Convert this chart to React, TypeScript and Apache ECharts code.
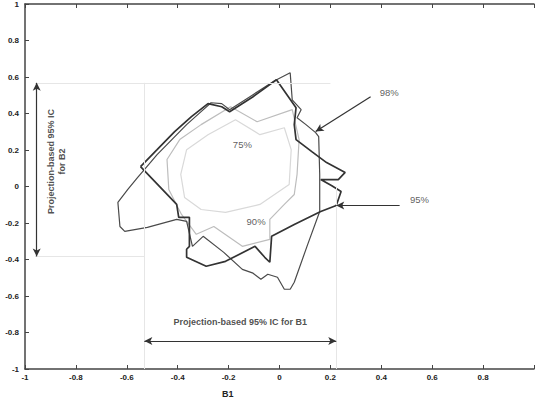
import React, { useEffect, useRef } from "react";
import * as echarts from "echarts";

// Confidence regions (B1, B2)
const region98: number[][] = [
  [-0.531, 0.093], [-0.481, 0.175], [-0.423, 0.257], [-0.365, 0.339], [-0.308, 0.41],
  [-0.269, 0.459], [-0.227, 0.454], [-0.196, 0.421], [-0.104, 0.503], [-0.019, 0.579],
  [0.042, 0.623], [0.05, 0.475], [0.085, 0.421], [0.069, 0.377], [0.104, 0.339],
  [0.142, 0.295], [0.154, 0.273], [0.158, 0.066], [0.158, -0.137], [0.108, -0.328],
  [0.058, -0.525], [0.042, -0.563], [0.019, -0.563], [-0.008, -0.497], [-0.046, -0.481],
  [-0.073, -0.508], [-0.104, -0.475], [-0.146, -0.454], [-0.219, -0.361], [-0.3, -0.273],
  [-0.342, -0.328], [-0.365, -0.191], [-0.404, -0.18], [-0.519, -0.224], [-0.608, -0.246],
  [-0.627, -0.219], [-0.635, -0.087], [-0.596, -0.016], [-0.558, 0.049], [-0.531, 0.093],
];
const region95: number[][] = [
  [-0.546, 0.109], [-0.481, 0.202], [-0.412, 0.301], [-0.346, 0.383], [-0.281, 0.454],
  [-0.227, 0.437], [-0.196, 0.41], [-0.104, 0.492], [-0.012, 0.585], [0.065, 0.432],
  [0.058, 0.339], [0.065, 0.257], [0.127, 0.191], [0.185, 0.131], [0.258, 0.077],
  [0.231, 0.038], [0.162, 0.038], [0.204, 0.005], [0.242, -0.027], [0.223, -0.104],
  [0.162, -0.137], [0.058, -0.208], [-0.031, -0.273], [-0.038, -0.415], [-0.058, -0.388],
  [-0.096, -0.328], [-0.212, -0.41], [-0.288, -0.437], [-0.365, -0.388], [-0.365, -0.344],
  [-0.354, -0.328], [-0.354, -0.169], [-0.396, -0.169], [-0.404, -0.098], [-0.546, 0.109],
];
const region90: number[][] = [
  [-0.392, 0.257], [-0.308, 0.339], [-0.192, 0.437], [-0.088, 0.355], [0.05, 0.421],
  [0.077, 0.257], [0.069, 0.066], [0.058, -0.044], [0.019, -0.098], [-0.038, -0.18],
  [-0.038, -0.29], [-0.146, -0.328], [-0.258, -0.219], [-0.327, -0.262], [-0.385, -0.153],
  [-0.435, -0.016], [-0.442, 0.148], [-0.392, 0.257],
];
const region75: number[][] = [
  [-0.365, 0.202], [-0.281, 0.284], [-0.173, 0.366], [-0.077, 0.284], [0.019, 0.322],
  [0.046, 0.202], [0.038, 0.011], [-0.077, -0.098], [-0.212, -0.142], [-0.308, -0.126],
  [-0.373, -0.06], [-0.388, 0.066], [-0.365, 0.202],
];

// Projection-based 95% intervals
const ciB1: number[] = [-0.531, 0.223];
const ciB2: number[] = [-0.383, 0.568];

// Annotation labels [x, y, text]
const regionLabels: [number, number, string][] = [
  [-0.146, 0.23, "75%"],
  [-0.092, -0.191, "90%"],
  [0.431, 0.514, "98%"],
  [0.55, -0.071, "95%"],
];
const pointer98: number[][] = [[0.358, 0.492], [0.142, 0.301]];
const pointer95: number[][] = [[0.472, -0.104], [0.223, -0.104]];

export default function App() {
  const ref = useRef<HTMLDivElement>(null);
  useEffect(() => {
    if (!ref.current) return;
    const chart = echarts.init(ref.current, null, { renderer: "svg" });
    const font = "Arial, 'Liberation Sans', Helvetica, sans-serif";
    const axisLine = { show: true, onZero: false, lineStyle: { color: "#444", width: 1.5 } };
    const poly = (name: string, data: number[][], color: string, width: number) => ({
      name,
      type: "line",
      data,
      symbol: "none",
      smooth: false,
      lineStyle: { color, width },
      z: 3,
      silent: true,
    });
    const faint = { color: "#e6e6e6", width: 1, type: "solid" as const };
    chart.setOption({
      animation: false,
      backgroundColor: "#fff",
      grid: { left: 25, right: -8, top: 3, bottom: 37 },
      xAxis: [
        {
          type: "value",
          min: -1,
          max: 1,
          interval: 0.2,
          axisLine,
          axisTick: { inside: true, length: 4, lineStyle: { color: "#444" } },
          splitLine: { show: false },
          axisLabel: {
            color: "#222",
            fontSize: 8,
            fontWeight: "bold",
            fontFamily: font,
            margin: 4,
            formatter: (v: number) => (Math.abs(v - 1) < 1e-9 ? "" : String(Math.round(v * 10) / 10)),
          },
        },
        {
          type: "value",
          position: "top",
          min: -1,
          max: 1,
          interval: 0.2,
          axisLine,
          axisTick: { inside: true, length: 4, lineStyle: { color: "#444" } },
          axisLabel: { show: false },
          splitLine: { show: false },
        },
      ],
      yAxis: {
        type: "value",
        min: -1,
        max: 1,
        interval: 0.2,
        axisLine,
        axisTick: { inside: true, length: 4, lineStyle: { color: "#444" } },
        splitLine: { show: false },
        axisLabel: {
          color: "#222",
          fontSize: 8,
          fontWeight: "bold",
          fontFamily: font,
          margin: 6,
          formatter: (v: number) => String(Math.round(v * 10) / 10),
        },
      },
      series: [
        {
          type: "line",
          data: [],
          symbol: "none",
          silent: true,
          markLine: {
            silent: true,
            symbol: ["none", "none"],
            label: { show: false },
            lineStyle: faint,
            data: [
              [{ coord: [ciB1[0], ciB2[1]] }, { coord: [ciB1[0], -1] }],
              [{ coord: [ciB1[1], 0] }, { coord: [ciB1[1], -1] }],
              [{ coord: [-0.96, ciB2[1]] }, { coord: [0.2, ciB2[1]] }],
              [{ coord: [-0.96, ciB2[0]] }, { coord: [ciB1[0], ciB2[0]] }],
            ],
          },
        },
        poly("75%", region75, "#d9d9d9", 1.2),
        poly("90%", region90, "#bdbdbd", 1.2),
        poly("98%", region98, "#4a4a4a", 1.2),
        poly("95%", region95, "#333", 1.7),
        {
          type: "line",
          data: [],
          symbol: "none",
          silent: true,
          markLine: {
            silent: true,
            label: { show: false },
            symbolSize: [6, 8],
            lineStyle: { color: "#333", width: 1.2, type: "solid" },
            data: [
              [
                { coord: [ciB1[0], -0.847], symbol: "arrow" },
                { coord: [ciB1[1], -0.847], symbol: "arrow" },
              ],
              [
                { coord: [-0.954, ciB2[0]], symbol: "arrow" },
                { coord: [-0.954, ciB2[1]], symbol: "arrow" },
              ],
              [
                { coord: pointer98[0], symbol: "none" },
                { coord: pointer98[1], symbol: "arrow" },
              ],
              [
                { coord: pointer95[0], symbol: "none" },
                { coord: pointer95[1], symbol: "arrow" },
              ],
            ],
          },
        },
        {
          type: "scatter",
          symbolSize: 0,
          silent: true,
          clip: false,
          data: regionLabels.map((d) => ({ value: [d[0], d[1]], name: d[2] })),
          label: {
            show: true,
            position: "inside",
            formatter: (p: any) => p.name,
            color: "#333",
            fontSize: 9.5,
            fontFamily: font,
          },
        },
        {
          type: "scatter",
          symbolSize: 0,
          silent: true,
          clip: false,
          data: [{ value: [-0.154, -0.743], name: "Projection-based 95% IC for B1" }],
          label: {
            show: true,
            position: "inside",
            formatter: (p: any) => p.name,
            color: "#222",
            fontSize: 9,
            fontWeight: "bold",
            fontFamily: font,
          },
        },
        {
          type: "scatter",
          symbolSize: 0,
          silent: true,
          clip: false,
          data: [{ value: [-0.877, 0.137], name: "Projection-based 95% IC\nfor B2" }],
          label: {
            show: true,
            position: "inside",
            rotate: 90,
            formatter: (p: any) => p.name,
            color: "#222",
            fontSize: 9,
            fontWeight: "bold",
            lineHeight: 11,
            align: "center",
            fontFamily: font,
          },
        },
      ],
      graphic: [
        {
          type: "text",
          left: 222,
          top: 389,
          style: { text: "B1", fill: "#222", font: `bold 9px ${font}` },
        },
      ],
    });
    return () => chart.dispose();
  }, []);
  return (
    <div
      ref={ref}
      style={{ position: "absolute", left: 0, top: 0, width: 537, height: 406, background: "#fff" }}
    />
  );
}
